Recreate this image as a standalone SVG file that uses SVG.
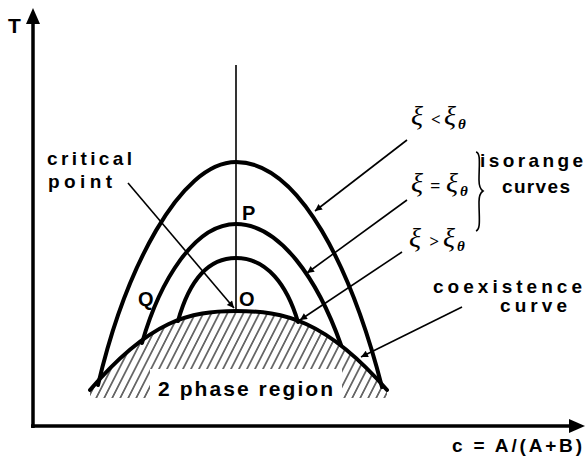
<svg xmlns="http://www.w3.org/2000/svg" width="585" height="457" viewBox="0 0 585 457">
<style>
.lbl{font-family:"Liberation Sans",Arial,sans-serif;font-weight:bold;fill:#000}
.greek{font-family:"Liberation Serif","Times New Roman",serif;font-style:italic;fill:#000}
.curve{fill:none;stroke:#000;stroke-width:4;stroke-linecap:round}
.thin{fill:none;stroke:#000;stroke-width:1.6}
.axis{fill:none;stroke:#000;stroke-width:3.5}
</style>
<defs>
<marker id="ah" viewBox="0 0 10 10" refX="10" refY="5" markerWidth="10" markerHeight="7" markerUnits="userSpaceOnUse" orient="auto">
<path d="M0,0 L10,5 L0,10 z" fill="#000"/>
</marker>
<pattern id="hatch" width="8" height="8" patternUnits="userSpaceOnUse" patternTransform="skewX(-27)">
<line x1="3" y1="0" x2="3" y2="8" stroke="#000" stroke-width="1.2"/>
</pattern>
<clipPath id="twophase">
<path d="M90 390 C150 320 190 311 236 311 C284 311 326 320 387 390 L387 398 L90 398 Z"/>
</clipPath>
</defs>

<g id="two-phase-region">
<rect x="80" y="300" width="320" height="100" fill="url(#hatch)" clip-path="url(#twophase)"/>
<rect x="150" y="369" width="192" height="32" fill="#fff"/>
<text class="lbl" x="158" y="396" font-size="21" textLength="175" lengthAdjust="spacing">2 phase region</text>
</g>

<g id="axes">
<line class="axis" x1="33" y1="428" x2="33" y2="20"/>
<polygon points="33,8 26,24 40,24" fill="#000"/>
<line class="axis" x1="31" y1="426" x2="572" y2="426"/>
<polygon points="585,426 569,419 569,433" fill="#000"/>
<text class="lbl" x="8" y="33" font-size="21">T</text>
<text class="lbl" x="452" y="452" font-size="19" textLength="130" lengthAdjust="spacing">c = A/(A+B)</text>
</g>

<g id="coexistence-curve">
<path class="curve" d="M90 390 C150 320 190 311 236 311 C284 311 326 320 387 390"/>
</g>

<g id="outer-curve">
<path class="curve" d="M98 385 C125 270 180 162 236 162 C300 162 352 270 382 387"/>
</g>
<g id="middle-curve">
<path class="curve" d="M142 343 C160 280 195 224 236 224 C280 224 318 280 341 345"/>
</g>
<g id="inner-curve">
<path class="curve" d="M178 321 C188 285 205 258 236 258 C267 258 287 285 298 322"/>
</g>

<g id="connectors">
<line class="thin" x1="236" y1="65" x2="236" y2="311"/>
<line class="thin" x1="128" y1="183" x2="234" y2="308" marker-end="url(#ah)"/>
<line class="thin" x1="407" y1="140" x2="315" y2="211" marker-end="url(#ah)"/>
<line class="thin" x1="407" y1="200" x2="307" y2="273" marker-end="url(#ah)"/>
<line class="thin" x1="402" y1="252" x2="300" y2="320" marker-end="url(#ah)"/>
<line class="thin" x1="462" y1="307" x2="361" y2="357" marker-end="url(#ah)"/>
<path class="thin" d="M476 152 C481 153 479 165 479 180 C479 186 480 189 483 191 C480 193 479 196 479 202 C479 218 481 229 476 231"/>
</g>

<g id="point-labels">
<text class="lbl" x="242" y="220" font-size="20">P</text>
<text class="lbl" x="138" y="306" font-size="20">Q</text>
<text class="lbl" x="239" y="306" font-size="20">O</text>
</g>

<g id="critical-point-label">
<text class="lbl" x="47" y="165" font-size="19" textLength="85" lengthAdjust="spacing">critical</text>
<text class="lbl" x="48" y="188" font-size="19" textLength="64" lengthAdjust="spacing">point</text>
</g>

<g id="xi-labels">
<text class="greek" font-size="28" y="125"><tspan x="411">ξ</tspan><tspan x="431" font-size="17" font-weight="bold">&lt;</tspan><tspan x="444">ξ</tspan><tspan x="458" dy="4" font-size="15" font-weight="bold">θ</tspan></text>
<text class="greek" font-size="28" y="192"><tspan x="411">ξ</tspan><tspan x="430" font-size="18" font-weight="bold">=</tspan><tspan x="446">ξ</tspan><tspan x="460" dy="4" font-size="15" font-weight="bold">θ</tspan></text>
<text class="greek" font-size="28" y="247"><tspan x="409">ξ</tspan><tspan x="429" font-size="17" font-weight="bold">&gt;</tspan><tspan x="443">ξ</tspan><tspan x="457" dy="4" font-size="15" font-weight="bold">θ</tspan></text>
</g>

<g id="isorange-label">
<text class="lbl" x="480" y="167" font-size="19" textLength="103" lengthAdjust="spacing">isorange</text>
<text class="lbl" x="502" y="193" font-size="19" textLength="68" lengthAdjust="spacing">curves</text>
</g>

<g id="coexistence-label">
<text class="lbl" x="433" y="293" font-size="19" textLength="149" lengthAdjust="spacing">coexistence</text>
<text class="lbl" x="500" y="312" font-size="19" textLength="67" lengthAdjust="spacing">curve</text>
</g>
</svg>
